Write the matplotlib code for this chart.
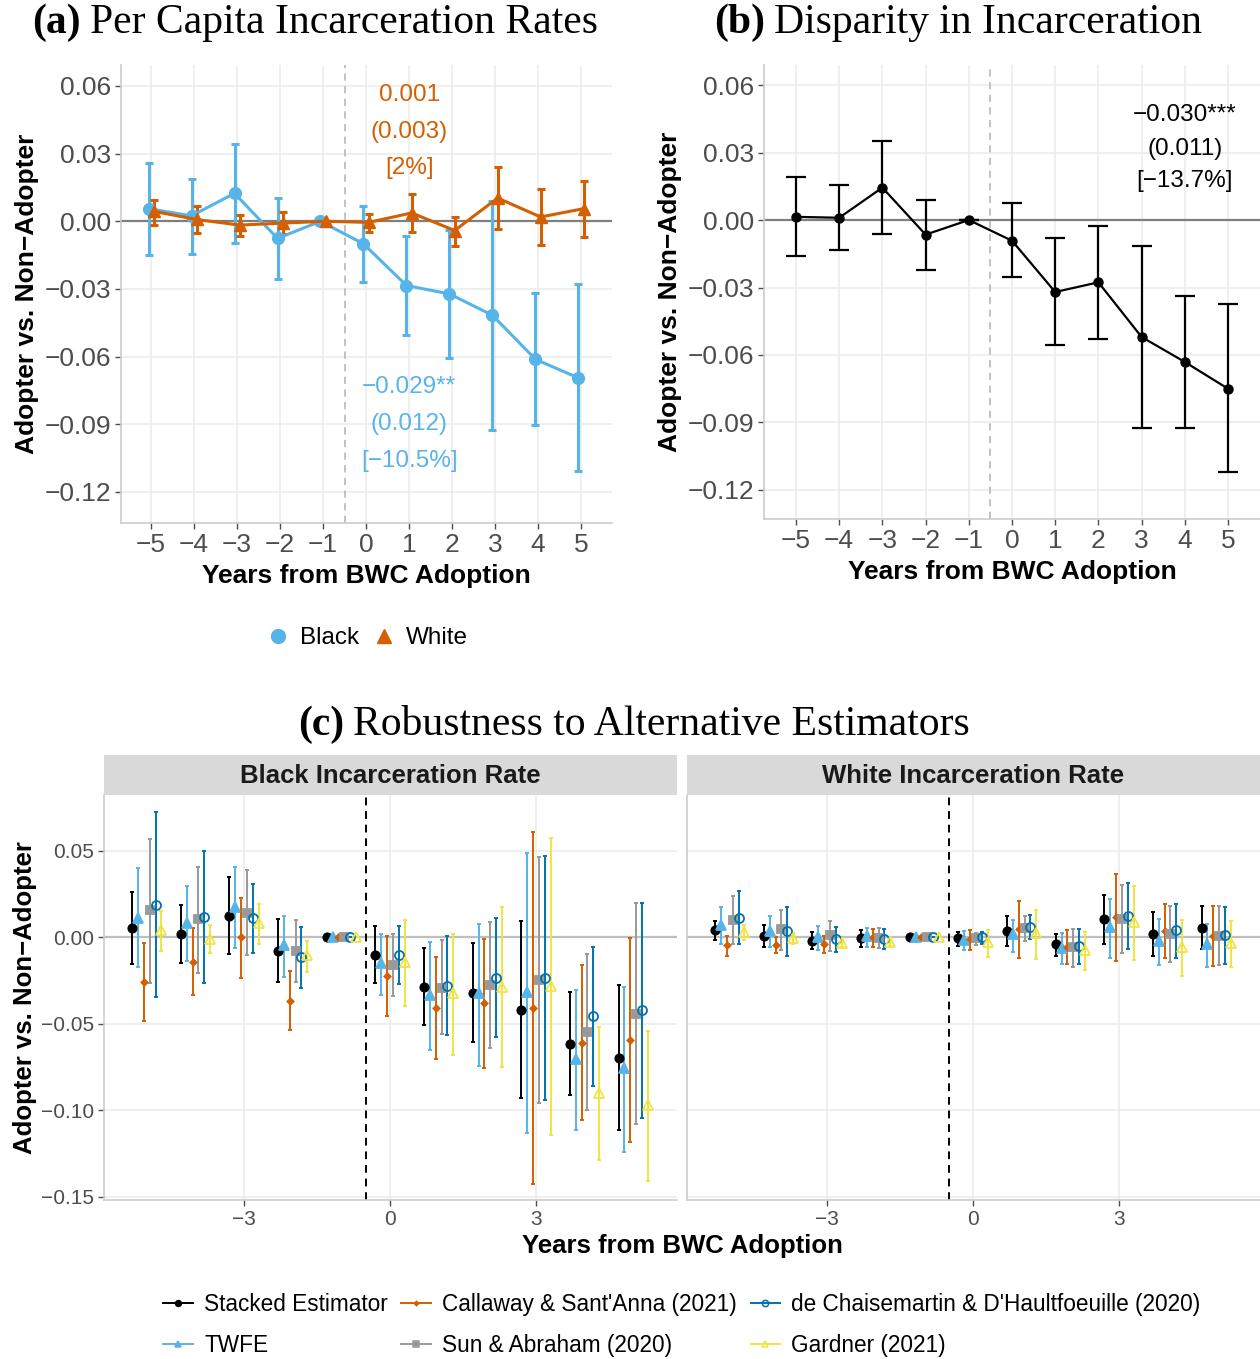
import matplotlib
matplotlib.use('Agg')
import matplotlib.pyplot as plt
from matplotlib.lines import Line2D
import numpy as np

# ---- data ------------------------------------------------------------
years = [-5, -4, -3, -2, -1, 0, 1, 2, 3, 4, 5]

# panel (a): per capita incarceration, black vs white
black_est = [0.0056, 0.0024, 0.0124, -0.0076, 0.0, -0.0100, -0.0285, -0.0322, -0.0417, -0.0612, -0.0695]
black_lo = [-0.0151, -0.0147, -0.0095, -0.0256, 0.0, -0.0268, -0.0505, -0.0605, -0.0924, -0.0905, -0.1108]
black_hi = [0.0258, 0.0186, 0.0342, 0.0105, 0.0, 0.0066, -0.0064, -0.0040, 0.0092, -0.0317, -0.0278]
white_est = [0.0044, 0.0008, -0.0017, -0.0008, 0.0, -0.0005, 0.0037, -0.0041, 0.0103, 0.0019, 0.0056]
white_lo = [-0.0017, -0.0054, -0.0066, -0.0058, 0.0, -0.0049, -0.0049, -0.0108, -0.0036, -0.0105, -0.0069]
white_hi = [0.0093, 0.0069, 0.0027, 0.0039, 0.0, 0.0034, 0.0122, 0.0019, 0.0241, 0.0142, 0.0180]

# panel (b): disparity
disp_est = [0.0014, 0.0010, 0.0144, -0.0065, 0.0, -0.0092, -0.0320, -0.0277, -0.0520, -0.0631, -0.0750]
disp_lo = [-0.0162, -0.0132, -0.0062, -0.0222, 0.0, -0.0255, -0.0557, -0.0530, -0.0923, -0.0923, -0.1120]
disp_hi = [0.0193, 0.0156, 0.0349, 0.0091, 0.0, 0.0074, -0.0082, -0.0027, -0.0115, -0.0337, -0.0374]

# panel (c): alternative estimators
estimators = ['Stacked Estimator', 'TWFE', "Callaway & Sant'Anna (2021)",
              'Sun & Abraham (2020)', "de Chaisemartin & D'Haultfoeuille (2020)", 'Gardner (2021)']

blk_est = {
    'Stacked Estimator': [0.0054, 0.0017, 0.0124, -0.0078, 0, -0.0101, -0.0287, -0.0324, -0.0421, -0.0616, -0.0698],
    'TWFE': [0.0110, 0.0083, 0.0174, -0.0045, 0, -0.0151, -0.0333, -0.0326, -0.0320, -0.0703, -0.0758],
    "Callaway & Sant'Anna (2021)": [-0.0260, -0.0143, -0.0002, -0.0368, 0, -0.0227, -0.0411, -0.0384, -0.0411, -0.0610, -0.0595],
    'Sun & Abraham (2020)': [0.0155, 0.0103, 0.0141, -0.0080, 0, -0.0159, -0.0295, -0.0277, -0.0248, -0.0548, -0.0444],
    "de Chaisemartin & D'Haultfoeuille (2020)": [0.0188, 0.0116, 0.0109, -0.0118, 0, -0.0105, -0.0283, -0.0234, -0.0236, -0.0457, -0.0424],
    'Gardner (2021)': [0.0040, -0.0010, 0.0081, -0.0103, 0, -0.0145, -0.0326, -0.0287, -0.0283, -0.0899, -0.0969],
}
blk_lo = {
    'Stacked Estimator': [-0.0153, -0.0151, -0.0099, -0.0260, 0, -0.0267, -0.0506, -0.0609, -0.0928, -0.0913, -0.1118],
    'TWFE': [-0.0174, -0.0138, -0.0064, -0.0229, 0, -0.0335, -0.0651, -0.0744, -0.1130, -0.1118, -0.1244],
    "Callaway & Sant'Anna (2021)": [-0.0488, -0.0337, -0.0234, -0.0539, 0, -0.0459, -0.0703, -0.0756, -0.1428, -0.1056, -0.1186],
    'Sun & Abraham (2020)': [-0.0266, -0.0205, -0.0105, -0.0258, 0, -0.0339, -0.0562, -0.0641, -0.0957, -0.1002, -0.1083],
    "de Chaisemartin & D'Haultfoeuille (2020)": [-0.0349, -0.0267, -0.0093, -0.0293, 0, -0.0269, -0.0568, -0.0576, -0.0942, -0.0859, -0.1047],
    'Gardner (2021)': [-0.0080, -0.0095, -0.0041, -0.0202, 0, -0.0401, -0.0682, -0.0750, -0.1147, -0.1291, -0.1409],
}
blk_hi = {
    'Stacked Estimator': [0.0260, 0.0186, 0.0345, 0.0107, 0, 0.0066, -0.0064, -0.0037, 0.0091, -0.0320, -0.0279],
    'TWFE': [0.0400, 0.0295, 0.0403, 0.0122, 0, 0.0019, -0.0027, 0.0078, 0.0486, -0.0304, -0.0291],
    "Callaway & Sant'Anna (2021)": [-0.0035, 0.0054, 0.0225, -0.0198, 0, 0.0006, -0.0116, -0.0012, 0.0610, -0.0163, -0.0006],
    'Sun & Abraham (2020)': [0.0568, 0.0407, 0.0388, 0.0099, 0, 0.0017, -0.0019, 0.0087, 0.0465, -0.0099, 0.0198],
    "de Chaisemartin & D'Haultfoeuille (2020)": [0.0721, 0.0500, 0.0308, 0.0058, 0, 0.0062, 0.0004, 0.0109, 0.0471, -0.0056, 0.0198],
    'Gardner (2021)': [0.0150, 0.0072, 0.0192, -0.0021, 0, 0.0099, 0.0017, 0.0174, 0.0574, -0.0521, -0.0541],
}

wht_est = {
    'Stacked Estimator': [0.0043, 0.0006, -0.0021, -0.0008, 0, -0.0008, 0.0035, -0.0043, 0.0103, 0.0017, 0.0054],
    'TWFE': [0.0070, 0.0033, 0.0000, 0.0004, 0, -0.0017, 0.0016, -0.0066, 0.0058, -0.0023, -0.0043],
    "Callaway & Sant'Anna (2021)": [-0.0047, -0.0047, -0.0041, -0.0002, 0, -0.0012, 0.0045, -0.0058, 0.0114, 0.0033, 0.0008],
    'Sun & Abraham (2020)': [0.0101, 0.0045, 0.0014, -0.0006, 0, -0.0006, 0.0050, -0.0060, 0.0107, 0.0019, 0.0008],
    "de Chaisemartin & D'Haultfoeuille (2020)": [0.0110, 0.0035, -0.0014, -0.0012, 0, -0.0002, 0.0058, -0.0052, 0.0120, 0.0039, 0.0012],
    'Gardner (2021)': [0.0029, -0.0004, -0.0037, -0.0029, 0, -0.0029, 0.0021, -0.0076, 0.0087, -0.0056, -0.0033],
}
wht_lo = {
    'Stacked Estimator': [-0.0017, -0.0056, -0.0068, -0.0058, 0, -0.0050, -0.0050, -0.0109, -0.0039, -0.0109, -0.0072],
    'TWFE': [-0.0041, -0.0056, -0.0074, -0.0056, 0, -0.0074, -0.0089, -0.0157, -0.0120, -0.0163, -0.0176],
    "Callaway & Sant'Anna (2021)": [-0.0109, -0.0095, -0.0093, -0.0058, 0, -0.0074, -0.0120, -0.0157, -0.0138, -0.0124, -0.0169],
    'Sun & Abraham (2020)': [-0.0043, -0.0076, -0.0078, -0.0066, 0, -0.0048, -0.0023, -0.0174, -0.0091, -0.0145, -0.0161],
    "de Chaisemartin & D'Haultfoeuille (2020)": [-0.0043, -0.0109, -0.0085, -0.0068, 0, -0.0039, -0.0014, -0.0155, -0.0072, -0.0120, -0.0153],
    'Gardner (2021)': [-0.0017, -0.0041, -0.0058, -0.0054, 0, -0.0116, -0.0126, -0.0188, -0.0132, -0.0227, -0.0176],
}
wht_hi = {
    'Stacked Estimator': [0.0095, 0.0070, 0.0027, 0.0039, 0, 0.0031, 0.0120, 0.0017, 0.0242, 0.0143, 0.0178],
    'TWFE': [0.0171, 0.0120, 0.0064, 0.0052, 0, 0.0033, 0.0101, 0.0023, 0.0217, 0.0105, 0.0074],
    "Callaway & Sant'Anna (2021)": [0.0008, 0.0000, 0.0008, 0.0048, 0, 0.0041, 0.0209, 0.0039, 0.0364, 0.0190, 0.0180],
    'Sun & Abraham (2020)': [0.0238, 0.0157, 0.0093, 0.0052, 0, 0.0025, 0.0120, 0.0048, 0.0302, 0.0178, 0.0180],
    "de Chaisemartin & D'Haultfoeuille (2020)": [0.0267, 0.0176, 0.0058, 0.0047, 0, 0.0027, 0.0126, 0.0047, 0.0312, 0.0192, 0.0172],
    'Gardner (2021)': [0.0068, 0.0025, -0.0004, 0.0002, 0, 0.0039, 0.0159, 0.0029, 0.0293, 0.0099, 0.0093],
}

# ---- styles ----------------------------------------------------------
SANS = 'Liberation Sans'
SERIF = 'Liberation Serif'
BLUE = '#56B4E9'
ORANGE = '#D55E00'
GRID = '#ebebeb'
AXLINE = '#cccccc'
TICKCOL = '#4d4d4d'

est_style = {
    'Stacked Estimator': dict(color='black', marker='o', ms=6, mfc='black'),
    'TWFE': dict(color=BLUE, marker='^', ms=6.5, mfc=BLUE),
    "Callaway & Sant'Anna (2021)": dict(color=ORANGE, marker='D', ms=3.2, mfc=ORANGE),
    'Sun & Abraham (2020)': dict(color='#999999', marker='s', ms=6, mfc='#999999'),
    "de Chaisemartin & D'Haultfoeuille (2020)": dict(color='#0072B2', marker='o', ms=6.5, mfc='none'),
    'Gardner (2021)': dict(color='#F0E442', marker='^', ms=7, mfc='none'),
}

W, H = 1260, 1359
fig = plt.figure(figsize=(W / 100, H / 100), dpi=100)


def px_axes(x0, y0, x1, y1):
    return fig.add_axes([x0 / W, 1 - y1 / H, (x1 - x0) / W, (y1 - y0) / H])


def style_axes(ax, tick_size, show_y=True):
    ax.set_facecolor('white')
    for s in ['top', 'right']:
        ax.spines[s].set_visible(False)
    for s in ['left', 'bottom']:
        ax.spines[s].set_color(AXLINE)
        ax.spines[s].set_linewidth(1.2)
    ax.grid(True, color=GRID, lw=1.1)
    ax.set_axisbelow(True)
    ax.tick_params(colors=TICKCOL, labelsize=tick_size, length=4, width=1, labelcolor=TICKCOL, pad=3)
    for lab in ax.get_xticklabels() + ax.get_yticklabels():
        lab.set_family(SANS)
    if not show_y:
        ax.tick_params(axis='y', length=0, labelleft=False)


def fmt(v, nd):
    s = f'{v:.{nd}f}'
    return s.replace('-', '\u2212')


def serif_title(x, y, tag, rest, size=30):
    t = fig.text(x / W, 1 - y / H, tag, family=SERIF, fontweight='bold', fontsize=size, va='baseline')
    fig.canvas.draw()
    bb = t.get_window_extent()
    fig.text((bb.x1 + 9) / W, 1 - y / H, rest, family=SERIF, fontsize=size, va='baseline')


yr = np.array(years)
yticks_ab = [0.06, 0.03, 0.0, -0.03, -0.06, -0.09, -0.12]

# ---- panel (a) -------------------------------------------------------
axa = px_axes(121, 65, 612, 523)
axa.axhline(0, color='#7f7f7f', lw=1.6, zorder=1)
axa.axvline(-0.5, color='#bdbdbd', lw=1.3, ls=(0, (4, 3)), zorder=1)
for est, lo, hi, col, mk, off in [(black_est, black_lo, black_hi, BLUE, 'o', -0.06),
                                  (white_est, white_lo, white_hi, ORANGE, '^', 0.06)]:
    e = np.array(est)
    axa.errorbar(yr + off, e, yerr=[e - np.array(lo), np.array(hi) - e], fmt='none',
                 ecolor=col, elinewidth=2.2, capsize=2.6, capthick=2.2, zorder=3)
    axa.plot(yr + off, e, color=col, lw=2.2, marker=mk, ms=8.5, zorder=4)
axa.set_xlim(-5.7, 5.72)
axa.set_ylim(-0.1338, 0.0693)
axa.set_xticks(years)
axa.set_xticklabels([fmt(v, 0) for v in years])
axa.set_yticks(yticks_ab)
axa.set_yticklabels([fmt(v, 2) for v in yticks_ab])
style_axes(axa, 19)
axa.set_xlabel('Years from BWC Adoption', family=SANS, fontweight='bold', fontsize=19, labelpad=5)
axa.set_ylabel('Adopter vs. Non\u2212Adopter', family=SANS, fontweight='bold', fontsize=19, labelpad=4)
for txt, yv in [('0.001', 0.056), ('(0.003)', 0.0398), ('[2%]', 0.0238)]:
    axa.text(1.0, yv, txt, color=ORANGE, fontsize=17.5, family=SANS, ha='center', va='center')
for txt, yv in [('\u22120.029**', -0.0735), ('(0.012)', -0.0900), ('[\u221210.5%]', -0.1064)]:
    axa.text(1.0, yv, txt, color=BLUE, fontsize=17.5, family=SANS, ha='center', va='center')

hb = Line2D([], [], color=BLUE, marker='o', ls='none', ms=10)
hw = Line2D([], [], color=ORANGE, marker='^', ls='none', ms=10)
fig.legend([hb, hw], ['Black', 'White'], loc='center', bbox_to_anchor=(367 / W, 1 - 638 / H),
           ncol=2, frameon=False, prop=dict(family=SANS, size=17.5),
           handlelength=1.0, handletextpad=0.4, columnspacing=0.5)

# ---- panel (b) -------------------------------------------------------
axb = px_axes(764, 65, 1260, 519)
axb.axhline(0, color='#7f7f7f', lw=1.6, zorder=1)
axb.axvline(-0.5, color='#bdbdbd', lw=1.3, ls=(0, (4, 3)), zorder=1)
e = np.array(disp_est)
axb.errorbar(yr, e, yerr=[e - np.array(disp_lo), np.array(disp_hi) - e], fmt='none',
             ecolor='black', elinewidth=1.6, capsize=7.5, capthick=1.6, zorder=3)
axb.plot(yr, e, color='black', lw=1.6, marker='o', ms=6.5, zorder=4)
axb.set_xlim(-5.74, 5.74)
axb.set_ylim(-0.1329, 0.0689)
axb.set_xticks(years)
axb.set_xticklabels([fmt(v, 0) for v in years])
axb.set_yticks(yticks_ab)
axb.set_yticklabels([fmt(v, 2) for v in yticks_ab])
style_axes(axb, 19)
axb.set_xlabel('Years from BWC Adoption', family=SANS, fontweight='bold', fontsize=19, labelpad=5)
axb.set_ylabel('Adopter vs. Non\u2212Adopter', family=SANS, fontweight='bold', fontsize=19, labelpad=4)
for txt, yv in [('\u22120.030***', 0.0467), ('(0.011)', 0.0316), ('[\u221213.7%]', 0.0173)]:
    axb.text(4.0, yv, txt, color='black', fontsize=17.5, family=SANS, ha='center', va='center')

serif_title(32, 33, '(a)', 'Per Capita Incarceration Rates')
serif_title(714, 33, '(b)', 'Disparity in Incarceration')
serif_title(298, 735, '(c)', 'Robustness to Alternative Estimators')

# ---- panel (c) -------------------------------------------------------
offsets = np.linspace(-0.3, 0.3, len(estimators))
yticks_c = [0.05, 0.0, -0.05, -0.10, -0.15]
facets = [('Black Incarceration Rate', blk_est, blk_lo, blk_hi, 104, 677),
          ('White Incarceration Rate', wht_est, wht_lo, wht_hi, 687, 1260)]
handles = []
for i, (title, D_est, D_lo, D_hi, x0, x1) in enumerate(facets):
    ax = px_axes(x0, 795, x1, 1200)
    ax.axhline(0, color='#bfbfbf', lw=1.6, zorder=1)
    ax.axvline(-0.5, color='black', lw=1.4, ls=(0, (4, 3)), zorder=2)
    for k, name in enumerate(estimators):
        st = est_style[name]
        e = np.array(D_est[name])
        ax.errorbar(yr + offsets[k], e, yerr=[e - np.array(D_lo[name]), np.array(D_hi[name]) - e],
                    fmt='none', ecolor=st['color'], elinewidth=1.4, capsize=1.6, capthick=1.4, zorder=3)
        ax.plot(yr + offsets[k], e, ls='none', marker=st['marker'], ms=st['ms'], color=st['color'],
                mfc=st['mfc'], mec=st['color'], mew=1.3, zorder=4)
        if i == 0:
            handles.append(Line2D([], [], color=st['color'], lw=1.4, marker=st['marker'],
                                  ms=st['ms'] * 0.7, mfc=st['mfc'], mec=st['color'], mew=1.1))
    ax.set_xlim(-5.88, 5.9)
    ax.set_ylim(-0.152, 0.0821)
    ax.set_xticks([-3, 0, 3])
    ax.set_xticklabels([fmt(v, 0) for v in [-3, 0, 3]])
    ax.set_yticks(yticks_c)
    ax.set_yticklabels([fmt(v, 2) for v in yticks_c])
    style_axes(ax, 15, show_y=(i == 0))
    # strip
    sax = px_axes(x0, 755, x1, 795)
    sax.set_facecolor('#d9d9d9')
    sax.set_xticks([])
    sax.set_yticks([])
    for s in sax.spines.values():
        s.set_visible(False)
    sax.text(0.5, 0.47, title, transform=sax.transAxes, ha='center', va='center',
             family=SANS, fontweight='bold', fontsize=18.5, color='#1a1a1a')
    if i == 0:
        ax.set_ylabel('Adopter vs. Non\u2212Adopter', family=SANS, fontweight='bold', fontsize=18.5, labelpad=3)

fig.text(682 / W, 1 - 1246 / H, 'Years from BWC Adoption', family=SANS, fontweight='bold',
         fontsize=18.5, ha='center', va='center')

fig.legend(handles, estimators, loc='center', bbox_to_anchor=(682 / W, 1 - 1325 / H), ncol=3,
           frameon=False, prop=dict(family=SANS, size=16.3), handlelength=1.3, handletextpad=0.5,
           columnspacing=0.6, labelspacing=0.8)

fig.savefig('out.png', dpi=100, facecolor='white')
